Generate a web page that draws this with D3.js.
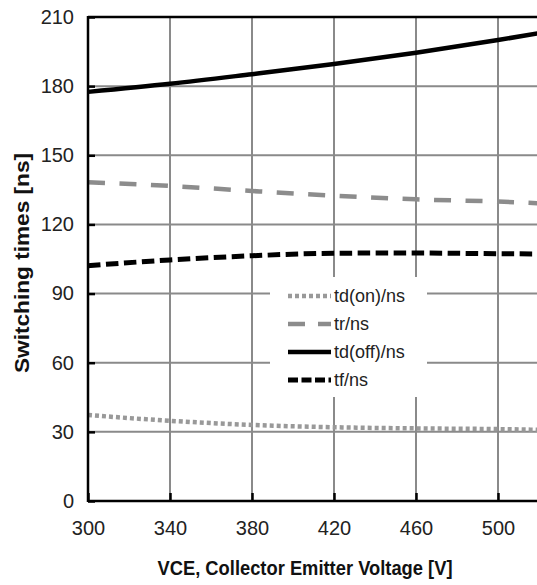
<!DOCTYPE html>
<html>
<head>
<meta charset="utf-8">
<script src="https://cdn.jsdelivr.net/npm/d3@7"></script>
<style>
html,body{margin:0;padding:0;background:#fff;}
svg{display:block;}
</style>
</head>
<body>
<svg id="chart" width="537" height="585"></svg>
<script>
// ---- data ----
const voltages = [300, 340, 380, 420, 460, 500, 520];
const tdOn  = [37.3, 34.8, 33.0, 32.0, 31.5, 31.2, 30.9];
const tr    = [138.3, 136.7, 134.5, 132.5, 130.9, 129.9, 129.2];
const tdOff = [177.5, 181.0, 185.2, 189.6, 194.5, 200.0, 203.0];
const tf    = [102.1, 104.6, 106.4, 107.5, 107.6, 107.3, 107.2];
const seriesNames = ["td(on)/ns", "tr/ns", "td(off)/ns", "tf/ns"];
const xTicks = [300, 340, 380, 420, 460, 500];
const yTicks = [0, 30, 60, 90, 120, 150, 180, 210];
const xTitle = "VCE, Collector Emitter Voltage [V]";
const yTitle = "Switching times [ns]";

(function(){
const styles = [
  {color: "#999999", width: 4.5, dash: "4,3"},
  {color: "#8c8c8c", width: 4.5, dash: "17,14.5"},
  {color: "#000000", width: 4.5, dash: null},
  {color: "#000000", width: 5, dash: "12.5,5.5"}
];
const seriesVals = [tdOn, tr, tdOff, tf];

const svg = d3.select("#chart");
const pLeft = 88, pTop = 17, pBottom = 501;
const x = d3.scaleLinear().domain([300, 540]).range([pLeft, pLeft + 492]);
const y = d3.scaleLinear().domain([0, 210]).range([pBottom, pTop]);

// gridlines
const grid = svg.append("g");
grid.selectAll("line.v").data(xTicks.slice(1)).join("line")
  .attr("x1", d => x(d)).attr("x2", d => x(d))
  .attr("y1", y(210)).attr("y2", y(0))
  .attr("stroke", "#8a8a8a").attr("stroke-width", 2);
grid.selectAll("line.h").data(yTicks.slice(1, -1)).join("line")
  .attr("x1", x(300)).attr("x2", x(540))
  .attr("y1", d => y(d)).attr("y2", d => y(d))
  .attr("stroke", "#8a8a8a").attr("stroke-width", 2);

// series
const line = d3.line().x((d, i) => x(voltages[i])).y(d => y(d)).curve(d3.curveMonotoneX);
seriesVals.forEach((vals, k) => {
  svg.append("path").datum(vals)
    .attr("d", line)
    .attr("fill", "none")
    .attr("stroke", styles[k].color)
    .attr("stroke-width", styles[k].width)
    .attr("stroke-dasharray", styles[k].dash)
    .attr("stroke-linecap", "butt");
});

// legend
const lg = svg.append("g");
lg.append("rect").attr("x", 270).attr("y", 277).attr("width", 157).attr("height", 120).attr("fill", "#fff");
seriesNames.forEach((name, k) => {
  const yy = 296 + k * 28;
  lg.append("line").attr("x1", 288).attr("x2", 331).attr("y1", yy).attr("y2", yy)
    .attr("stroke", styles[k].color).attr("stroke-width", styles[k].width)
    .attr("stroke-dasharray", k === 1 ? "17,13" : (k === 3 ? "10,3.5" : styles[k].dash));
  lg.append("text").attr("x", 334).attr("y", yy).attr("dy", "0.35em")
    .attr("font-family", "Liberation Sans, Arial, sans-serif").attr("font-size", 18)
    .attr("fill", "#222").text(name);
});

// axes frame
svg.append("line").attr("x1", pLeft).attr("x2", pLeft).attr("y1", pTop - 1).attr("y2", pBottom + 1)
  .attr("stroke", "#000").attr("stroke-width", 2.5);
svg.append("line").attr("x1", pLeft).attr("x2", 600).attr("y1", pBottom).attr("y2", pBottom)
  .attr("stroke", "#000").attr("stroke-width", 2.5);
svg.append("line").attr("x1", pLeft).attr("x2", 600).attr("y1", pTop).attr("y2", pTop)
  .attr("stroke", "#000").attr("stroke-width", 2.5);

// y axis
const yAxis = d3.axisLeft(y).tickValues(yTicks).tickSize(-7).tickPadding(14);
const gy = svg.append("g").attr("transform", `translate(${pLeft},0)`).call(yAxis);
gy.select(".domain").remove();
gy.selectAll(".tick line").attr("stroke", "#000").attr("stroke-width", 2.5);
gy.selectAll(".tick text").attr("font-family", "Liberation Sans, Arial, sans-serif")
  .attr("font-size", 20).attr("fill", "#222");

// x axis
const xAxis = d3.axisBottom(x).tickValues(xTicks).tickSize(-8).tickPadding(20);
const gx = svg.append("g").attr("transform", `translate(0,${pBottom})`).call(xAxis);
gx.select(".domain").remove();
gx.selectAll(".tick line").attr("stroke", "#000").attr("stroke-width", 2.5);
gx.selectAll(".tick text").attr("font-family", "Liberation Sans, Arial, sans-serif")
  .attr("font-size", 20).attr("fill", "#222");

// titles
svg.append("text").attr("x", 305).attr("y", 575)
  .attr("text-anchor", "middle")
  .attr("font-family", "Liberation Sans, Arial, sans-serif").attr("font-weight", "bold")
  .attr("font-size", 20).attr("fill", "#111")
  .attr("textLength", 295).attr("lengthAdjust", "spacingAndGlyphs")
  .text(xTitle);
svg.append("text")
  .attr("transform", "translate(29,263) rotate(-90)")
  .attr("text-anchor", "middle")
  .attr("font-family", "Liberation Sans, Arial, sans-serif").attr("font-weight", "bold")
  .attr("font-size", 20).attr("fill", "#111")
  .attr("textLength", 220).attr("lengthAdjust", "spacingAndGlyphs")
  .text(yTitle);
})();
</script>
</body>
</html>
